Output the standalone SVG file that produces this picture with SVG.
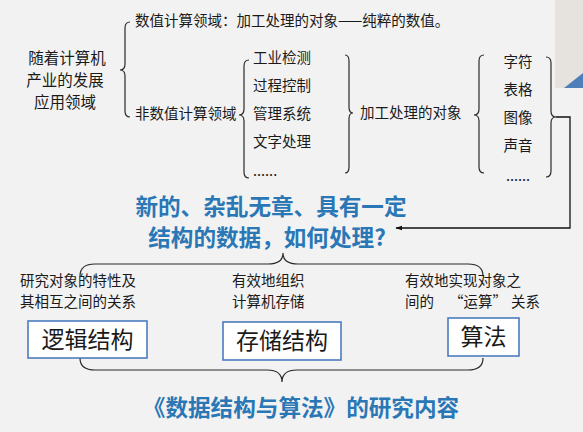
<svg xmlns="http://www.w3.org/2000/svg" width="583" height="432" viewBox="0 0 583 432">
<defs>
<style>
text{font-family:"Noto Sans CJK SC","Microsoft YaHei",sans-serif;fill:#1a1a1a}
.t{font-size:14.5px}
.l{font-size:15.5px}
.q{font-size:22.6px;font-weight:bold;fill:#2a77b6}
.b{font-size:23px}
.br{fill:none;stroke:#2a2a2a;stroke-width:1.2}
.box{fill:#ffffff;stroke:#4a7cbf;stroke-width:1.6}
</style>
<marker id="ah" viewBox="0 0 10 10" refX="9" refY="5" markerWidth="7" markerHeight="7" orient="auto" markerUnits="userSpaceOnUse">
<path d="M0,1.5 L10,5 L0,8.5 Z" fill="#111"/>
</marker>
</defs>
<rect x="0" y="0" width="583" height="432" fill="#f2f2f2"/>
<g id="photo">
<rect x="555" y="0" width="28" height="88" fill="#e6e3df"/>
<polygon points="564,88 583,73 583,88" fill="#4f7fb8"/>
</g>
<g id="connectors">
<path class="br" d="M130,22 Q125,22 125,28 L125,64 Q125,70 120,70 Q125,70 125,76 L125,111 Q125,117 130,117"/>
<path class="br" d="M249,60 Q244,60 244,66 L244,109 Q244,115 239,115 Q244,115 244,121 L244,172 Q244,178 249,178"/>
<path class="br" d="M345,55 Q349,55 349,61 L349,107 Q349,113 353,113 Q349,113 349,119 L349,167 Q349,173 345,173"/>
<path class="br" d="M484,55 Q479,55 479,61 L479,109 Q479,115 474,115 Q479,115 479,121 L479,167 Q479,173 484,173"/>
<path class="br" d="M546,57 Q551,57 551,63 L551,111 Q551,117 556,117 Q551,117 551,123 L551,171 Q551,177 546,177"/>
<polyline fill="none" stroke="#111" stroke-width="1.3" points="556,117 570,117 570,228 396,228" marker-end="url(#ah)"/>
<path class="br" d="M80,276 Q80,264 95,264 L268,264 Q283,264 283,253 Q283,264 298,264 L468,264 Q483,264 483,276"/>
<path class="br" d="M80,358 Q80,370 95,370 L267,370 Q282,370 282,382 Q282,370 297,370 L468,370 Q483,370 483,358"/>
</g>
<g id="root">
<text class="l" x="67" y="64" text-anchor="middle">随着计算机</text>
<text class="l" x="65" y="86" text-anchor="middle">产业的发展</text>
<text class="l" x="65" y="107.5" text-anchor="middle">应用领域</text>
</g>
<g id="numeric">
<text class="t" x="135" y="26">数值计算领域：加工处理的对象——纯粹的数值。</text>
</g>
<g id="nonnumeric">
<text class="t" x="135" y="119">非数值计算领域</text>
</g>
<g id="apps">
<text class="t" x="253" y="63">工业检测</text>
<text class="t" x="253" y="91">过程控制</text>
<text class="t" x="253" y="119">管理系统</text>
<text class="t" x="253" y="147">文字处理</text>
<text class="t" x="253" y="176">......</text>
</g>
<g id="objects">
<text class="t" x="360" y="118">加工处理的对象</text>
</g>
<g id="types">
<text class="t" x="518" y="67" text-anchor="middle">字符</text>
<text class="t" x="518" y="95" text-anchor="middle">表格</text>
<text class="t" x="518" y="123" text-anchor="middle">图像</text>
<text class="t" x="518" y="151" text-anchor="middle">声音</text>
<text class="t" x="518" y="181" text-anchor="middle">......</text>
</g>
<g id="question">
<text class="q" x="271" y="215" text-anchor="middle">新的、杂乱无章、具有一定</text>
<text class="q" x="267" y="246" text-anchor="middle">结构的数据，如何处理?</text>
</g>
<g id="desc1">
<text class="t" x="20" y="286">研究对象的特性及</text>
<text class="t" x="20" y="307">其相互之间的关系</text>
</g>
<g id="desc2">
<text class="t" x="232" y="286">有效地组织</text>
<text class="t" x="232" y="307">计算机存储</text>
</g>
<g id="desc3">
<text class="t" x="405" y="286">有效地实现对象之</text>
<text class="t" x="405" y="307">间的</text>
<text class="t" x="478" y="307" text-anchor="middle">“运算”</text>
<text class="t" x="511" y="307">关系</text>
</g>
<g id="logical">
<rect class="box" x="28" y="321" width="119" height="37"/>
<text class="b" x="87.5" y="348" text-anchor="middle">逻辑结构</text>
</g>
<g id="storage">
<rect class="box" x="223" y="322" width="118" height="38"/>
<text class="b" x="282" y="349" text-anchor="middle">存储结构</text>
</g>
<g id="algorithm">
<rect class="box" x="448" y="318" width="71" height="38"/>
<text class="b" x="483.5" y="345" text-anchor="middle">算法</text>
</g>
<g id="title">
<text class="q" x="301" y="416" text-anchor="middle" font-size="22">《数据结构与算法》的研究内容</text>
</g>
</svg>
